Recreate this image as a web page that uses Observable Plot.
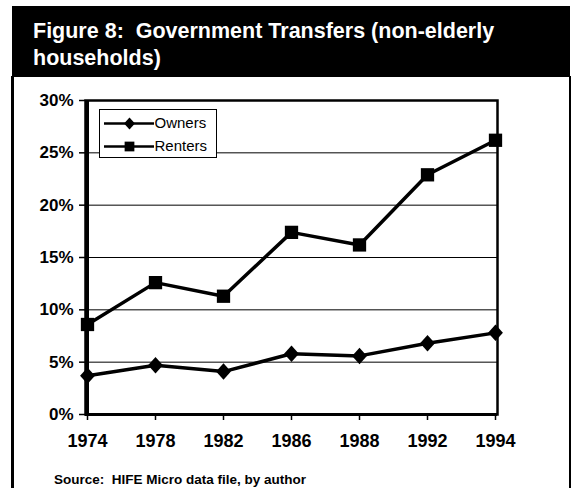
<!DOCTYPE html>
<html>
<head>
<meta charset="utf-8">
<script src="https://cdn.jsdelivr.net/npm/d3@7"></script>
<script src="https://cdn.jsdelivr.net/npm/@observablehq/plot@0.6"></script>
<style>
  html, body { margin: 0; padding: 0; background: #fff; }
  body { font-family: "Liberation Sans", Arial, sans-serif; }
  #wrap { position: relative; width: 572px; height: 488px; overflow: hidden; background: #fff; }
  #title { position: absolute; left: 12px; top: 6px; width: 558px; height: 71px; background: #000; color: #fff;
    font-weight: bold; font-size: 21.5px; line-height: 27px; box-sizing: border-box; padding: 12px 0 0 21px; white-space: nowrap; }
  #panel { position: absolute; left: 11px; top: 76px; width: 555px; height: 420px; border-left: 3px solid #000; border-right: 2px solid #000; }
  #chart { position: absolute; left: 14px; top: 77px; }
  #legend { position: absolute; left: 99px; top: 109px; width: 116px; height: 47px; border: 1px solid #000; background: #fff; }
  #legend svg { display: block; }
  #caption { position: absolute; left: 54px; top: 472px; font-size: 13.5px; font-weight: bold; color: #000; white-space: nowrap; }
</style>
</head>
<body>
<div id="wrap">
  <div id="panel"></div>
  <div id="title">Figure 8:&nbsp; Government Transfers (non-elderly<br>households)</div>
  <div id="chart"></div>
  <div id="legend"></div>
  <div id="caption">Source:&nbsp; HIFE Micro data file, by author</div>
</div>
<script>
const years = ["1974", "1978", "1982", "1986", "1988", "1992", "1994"];
const owners = [3.7, 4.7, 4.1, 5.8, 5.6, 6.8, 7.8];
const renters = [8.6, 12.6, 11.3, 17.4, 16.2, 22.9, 26.2];
const seriesNames = ["Owners", "Renters"];
const yTicks = [0, 5, 10, 15, 20, 25, 30];

const data = [];
years.forEach((y, i) => {
  data.push({year: y, series: "Owners", value: owners[i]});
  data.push({year: y, series: "Renters", value: renters[i]});
});

const diamond = {
  draw(context, size) {
    const h = Math.sqrt(size) * 0.62;
    const w = h * 0.9;
    context.moveTo(0, -h);
    context.lineTo(w, 0);
    context.lineTo(0, h);
    context.lineTo(-w, 0);
    context.closePath();
  }
};
const square = {
  draw(context, size) {
    const s = Math.sqrt(size) / 2;
    context.rect(-s, -s, 2 * s, 2 * s);
  }
};

const fontFamily = '"Liberation Sans", Arial, sans-serif';

const chart = Plot.plot({
  width: 555,
  height: 380,
  marginLeft: 71,
  marginRight: 72,
  marginTop: 23,
  marginBottom: 43,
  style: {fontFamily, color: "#000", background: "transparent"},
  x: {type: "point", domain: years, padding: 0, label: null},
  y: {domain: [0, 30], label: null},
  symbol: {domain: seriesNames, range: [diamond, square]},
  marks: [
    Plot.ruleY(yTicks, {stroke: "#000", strokeWidth: 1}),
    Plot.frame({stroke: "#000", strokeWidth: 2.5}),
    Plot.ruleX([years[0]], {stroke: "#000", strokeWidth: 3}),
    Plot.ruleY([0], {stroke: "#000", strokeWidth: 3}),
    Plot.axisY(yTicks, {label: null, tickSize: 6, tickPadding: 6, tickFormat: d => d + "%", fontSize: 17, fontWeight: "bold", strokeWidth: 1.5}),
    Plot.axisX({label: null, tickSize: 6, tickPadding: 14, fontSize: 18, fontWeight: "bold", strokeWidth: 1.5}),
    Plot.line(data, {x: "year", y: "value", z: "series", stroke: "#000", strokeWidth: 3.5}),
    Plot.dot(data, {x: "year", y: "value", symbol: "series", fill: "#000", stroke: "none", r: 7.5})
  ]
});
document.getElementById("chart").appendChild(chart);

// legend built from the same symbols through Plot
const legend = Plot.plot({
  width: 116,
  height: 47,
  margin: 0,
  style: {fontFamily, color: "#000", background: "transparent", overflow: "visible"},
  x: {domain: [0, 116], range: [0, 116], axis: null},
  y: {type: "point", domain: seriesNames, range: [13, 36], padding: 0, axis: null},
  symbol: {domain: seriesNames, range: [diamond, square]},
  marks: [
    Plot.ruleY(seriesNames, {y: d => d, x1: 4, x2: 54, stroke: "#000", strokeWidth: 2.5}),
    Plot.dot(seriesNames, {x: 29, y: d => d, symbol: d => d, fill: "#000", stroke: "none", r: 5.5}),
    Plot.text(seriesNames, {x: 54, y: d => d, text: d => d, textAnchor: "start", fontSize: 15, letterSpacing: "-0.4px"})
  ]
});
document.getElementById("legend").appendChild(legend);
</script>
</body>
</html>
